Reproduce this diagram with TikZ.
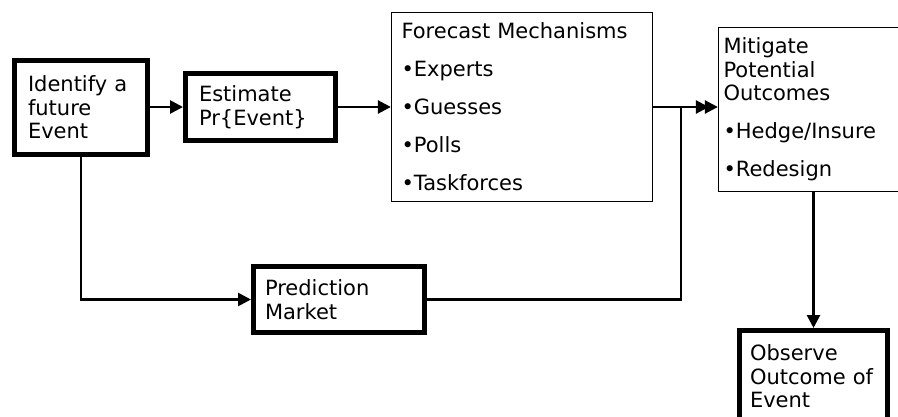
\documentclass[tikz,border=0pt]{standalone}
\usepackage{fontspec}
\setmainfont{DejaVu Sans}
\usetikzlibrary{arrows.meta}
\begin{document}
\begin{tikzpicture}[x=1pt,y=-1pt,
  txt/.style={font=\fontsize{21}{23.5}\selectfont, align=left, anchor=center, rectangle},
  heavybox/.style={txt, draw, line width=5pt, fill=white},
  lightbox/.style={txt, draw, line width=1.3pt, fill=white},
  conn/.style={line width=2.7pt},
  arr/.style={conn, -{Triangle[length=13pt,width=13pt]}}]
\clip (0,0) rectangle (898,417);
\fill[white] (0,0) rectangle (898,417);

\node[heavybox, minimum height=94pt, text width=106pt, inner xsep=13.5pt] (id) at (81,107.5) {Identify a\\future\\Event};
\node[heavybox, minimum height=67pt, text width=123pt, inner xsep=13.5pt] (est) at (260.5,107) {Estimate\\Pr\{Event\}};
\node[lightbox, minimum height=189pt, text width=241pt, inner xsep=10pt] (fc) at (522,107) {Forecast Mechanisms\\[14.5pt]•Experts\\[14.5pt]•Guesses\\[14.5pt]•Polls\\[14.5pt]•Taskforces};
\node[lightbox, minimum height=164pt, text width=180pt, inner xsep=5pt] (mit) at (813.5,109.5) {Mitigate\\Potential\\Outcomes\\[14.5pt]•Hedge/Insure\\[14.5pt]•Redesign};
\node[heavybox, minimum height=66pt, text width=148pt, inner xsep=11.5pt] (pm) at (339,299.5) {Prediction\\Market};
\node[heavybox, minimum height=91.5pt, text width=127pt, inner xsep=10.5pt] (ob) at (813.5,376.25) {Observe\\Outcome of\\Event};

\coordinate (j) at (681,107);

\draw[arr] (id.east |- est.west) -- (est.west);
\draw[arr] (est.east) -- (est.east -| fc.west);
\draw[arr] (fc.east) -- (fc.east -| mit.west);
\draw[arr] (id.south) |- (pm.west);
\draw[arr, shorten >=9pt] (pm.east) -| (j) -- (j -| mit.west);
\draw[arr] (mit.south -| ob.north) -- (ob.north);
\end{tikzpicture}
\end{document}
